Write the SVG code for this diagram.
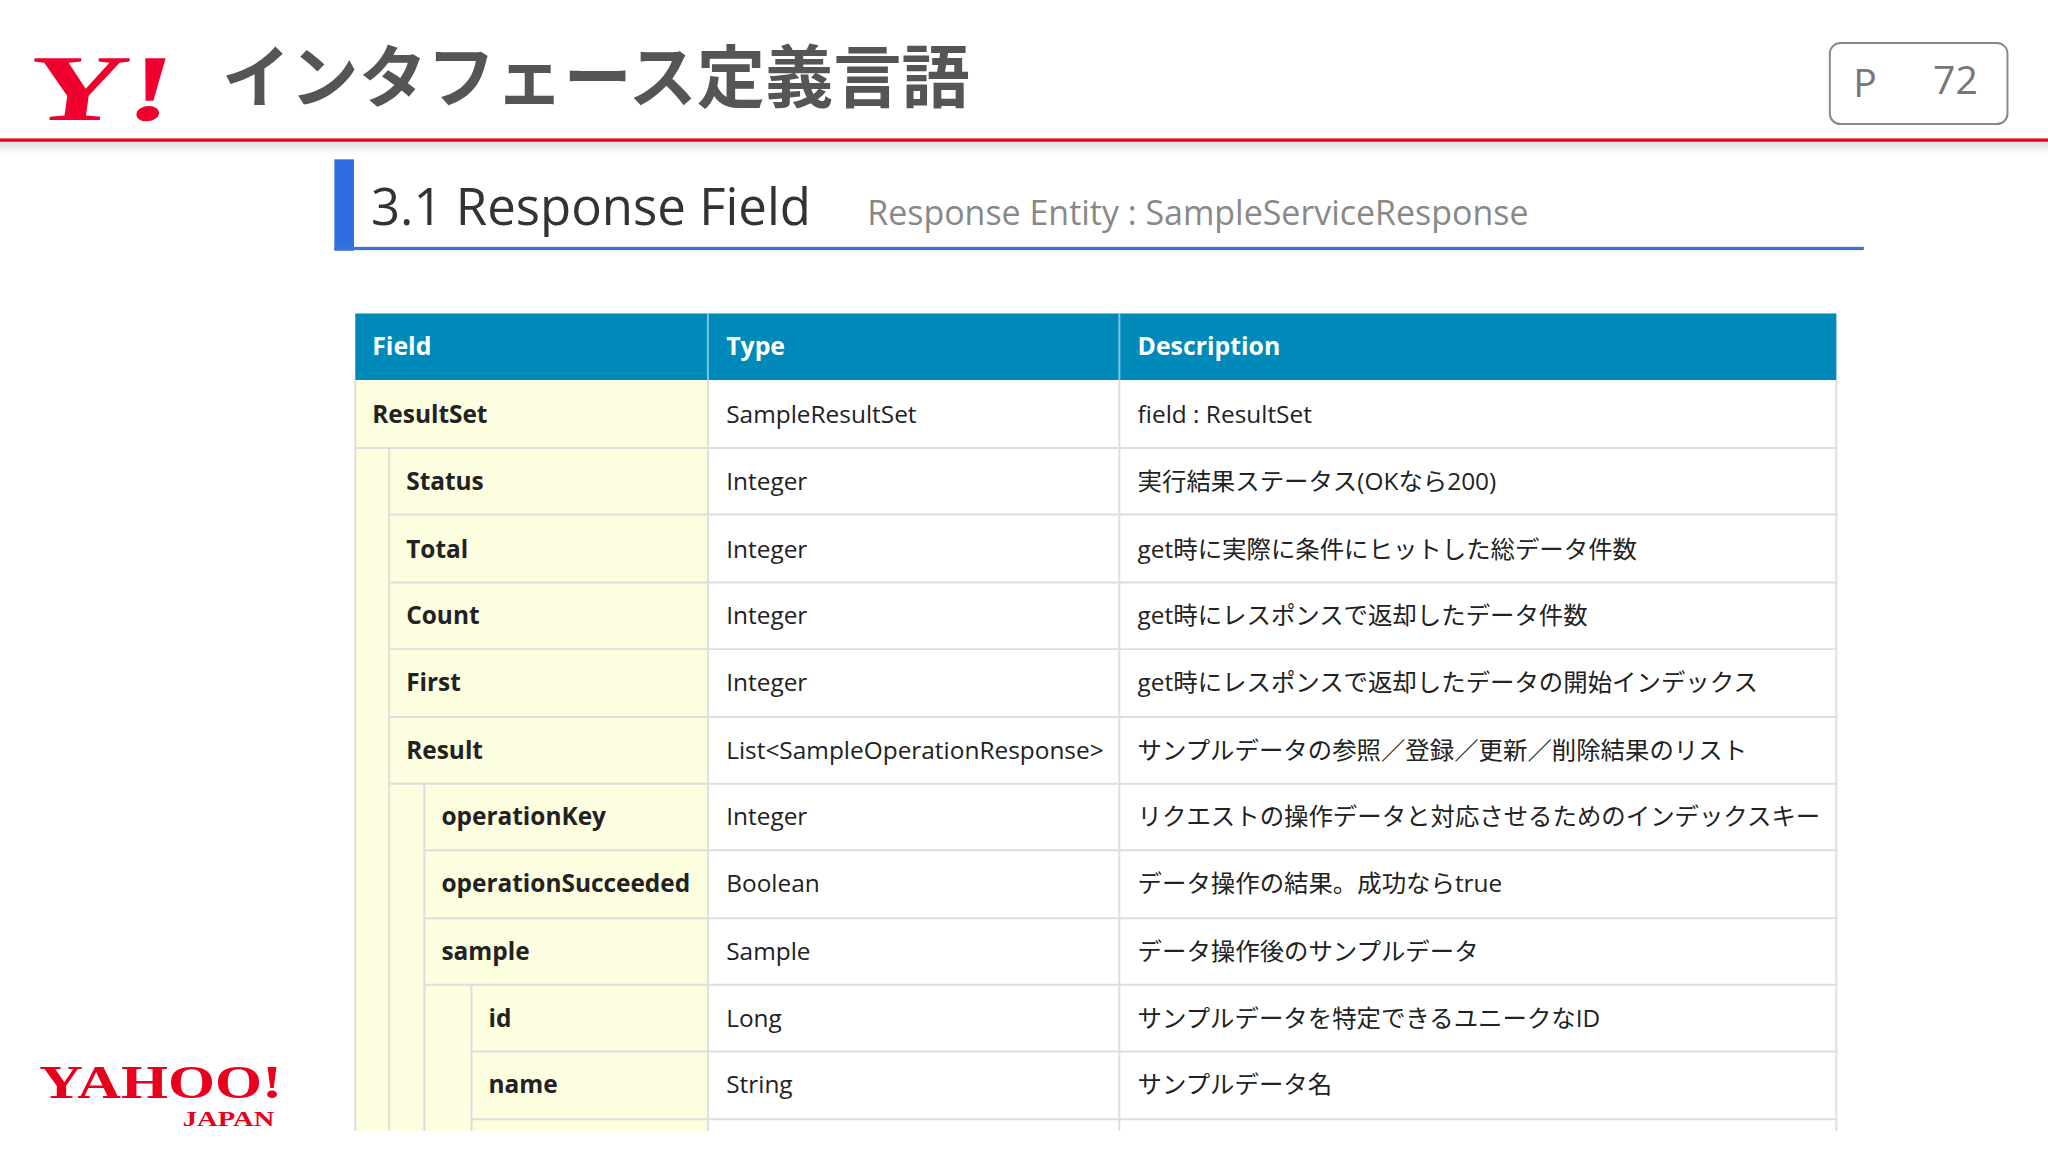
<svg xmlns="http://www.w3.org/2000/svg" width="2048" height="1152" viewBox="0 0 2048 1152">
<style>
.t{font-family:"Open Sans","Noto Sans CJK JP",sans-serif;font-size:18.7px;fill:#222}
.b{font-weight:bold}
.h{font-family:"Open Sans",sans-serif;font-size:19px;font-weight:bold;fill:#fff}
.g{stroke:#dedede;stroke-width:1.5;fill:none}
</style>
<rect width="2048" height="1152" fill="#fff"/>
<g transform="scale(1.3061)">
<defs><linearGradient id="sh" x1="0" y1="0" x2="0" y2="1"><stop offset="0" stop-color="#ddd"/><stop offset="1" stop-color="#fff"/></linearGradient></defs>
<g id="header">
<text x="0" y="0" font-family="Liberation Serif,serif" font-weight="bold" font-size="76" fill="#f0002e" transform="translate(18,92) skewX(-8) scale(1.4,0.95)">Y!</text>
<text x="170" y="78" font-family="Noto Sans CJK JP,sans-serif" font-weight="bold" font-size="52.3" fill="#555">インタフェース定義言語</text>
<rect x="1401" y="33" width="136" height="62" rx="8" fill="#fff" stroke="#888" stroke-width="1.5"/>
<text x="1419" y="74" font-family="Open Sans,sans-serif" font-size="30" fill="#777">P</text>
<text x="1480" y="72" font-family="Open Sans,sans-serif" font-size="30" fill="#777">72</text>
<rect x="0" y="108" width="1568" height="10" fill="url(#sh)"/>
<rect x="0" y="106" width="1568" height="2.5" fill="#e8001c"/>
</g>
<g id="section">
<rect x="256" y="122" width="15" height="70" fill="#2f6ee0"/>
<rect x="256" y="189" width="1171" height="2.5" fill="#3a74d8"/>
<text x="284" y="172" font-family="Open Sans,sans-serif" font-size="39" fill="#333">3.1 Response Field</text>
<text x="664" y="172" font-family="Open Sans,sans-serif" font-size="26" fill="#888">Response Entity : SampleServiceResponse</text>
</g>
<g id="table">
<rect x="272" y="240" width="1134" height="51" fill="#008ab9"/>
<line x1="542" y1="240" x2="542" y2="291" stroke="#7fc4dc" stroke-width="1.5"/>
<line x1="857" y1="240" x2="857" y2="291" stroke="#7fc4dc" stroke-width="1.5"/>
<text class="h" x="285" y="272">Field</text>
<text class="h" x="556" y="272">Type</text>
<text class="h" x="871" y="272">Description</text>
<rect x="272" y="291" width="270" height="575" fill="#fdfde0"/>
<rect x="542" y="291" width="864" height="575" fill="#fff"/>
<g class="g">
<line x1="272" y1="291" x2="272" y2="866"/><line x1="542" y1="291" x2="542" y2="866"/><line x1="857" y1="291" x2="857" y2="866"/><line x1="1406" y1="291" x2="1406" y2="866"/>
<line x1="298" y1="343" x2="298" y2="866"/><line x1="325" y1="600" x2="325" y2="866"/><line x1="361" y1="754" x2="361" y2="866"/>
<line x1="272" y1="343" x2="1406" y2="343"/><line x1="298" y1="394" x2="1406" y2="394"/><line x1="298" y1="446" x2="1406" y2="446"/><line x1="298" y1="497" x2="1406" y2="497"/><line x1="298" y1="549" x2="1406" y2="549"/><line x1="298" y1="600" x2="1406" y2="600"/><line x1="325" y1="651" x2="1406" y2="651"/><line x1="325" y1="703" x2="1406" y2="703"/><line x1="325" y1="754" x2="1406" y2="754"/><line x1="361" y1="805" x2="1406" y2="805"/><line x1="361" y1="857" x2="1406" y2="857"/>
</g>
<text class="t b" x="285" y="324">ResultSet</text><text class="t" x="556" y="324">SampleResultSet</text><text class="t" x="871" y="324">field : ResultSet</text>
<text class="t b" x="311" y="375">Status</text><text class="t" x="556" y="375">Integer</text><text class="t" x="871" y="375">実行結果ステータス(OKなら200)</text>
<text class="t b" x="311" y="427">Total</text><text class="t" x="556" y="427">Integer</text><text class="t" x="871" y="427">get時に実際に条件にヒットした総データ件数</text>
<text class="t b" x="311" y="478">Count</text><text class="t" x="556" y="478">Integer</text><text class="t" x="871" y="478">get時にレスポンスで返却したデータ件数</text>
<text class="t b" x="311" y="529">First</text><text class="t" x="556" y="529">Integer</text><text class="t" x="871" y="529">get時にレスポンスで返却したデータの開始インデックス</text>
<text class="t b" x="311" y="581">Result</text><text class="t" x="556" y="581">List&lt;SampleOperationResponse&gt;</text><text class="t" x="871" y="581">サンプルデータの参照／登録／更新／削除結果のリスト</text>
<text class="t b" x="338" y="632">operationKey</text><text class="t" x="556" y="632">Integer</text><text class="t" x="871" y="632">リクエストの操作データと対応させるためのインデックスキー</text>
<text class="t b" x="338" y="683">operationSucceeded</text><text class="t" x="556" y="683">Boolean</text><text class="t" x="871" y="683">データ操作の結果。成功ならtrue</text>
<text class="t b" x="338" y="735">sample</text><text class="t" x="556" y="735">Sample</text><text class="t" x="871" y="735">データ操作後のサンプルデータ</text>
<text class="t b" x="374" y="786">id</text><text class="t" x="556" y="786">Long</text><text class="t" x="871" y="786">サンプルデータを特定できるユニークなID</text>
<text class="t b" x="374" y="837">name</text><text class="t" x="556" y="837">String</text><text class="t" x="871" y="837">サンプルデータ名</text>
</g>
<g id="footer-logo">
<text x="30" y="841" font-family="Liberation Serif,serif" font-weight="bold" font-size="35" fill="#e8001c" textLength="186" lengthAdjust="spacingAndGlyphs">YAHOO!</text>
<text x="140" y="862" font-family="Liberation Serif,serif" font-weight="bold" font-size="16" fill="#e8001c" textLength="70" lengthAdjust="spacingAndGlyphs">JAPAN</text>
</g>
</g>
</svg>
